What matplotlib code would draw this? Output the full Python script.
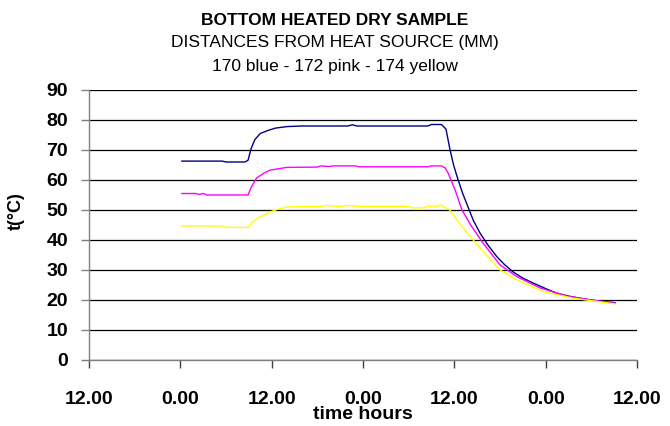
import matplotlib
matplotlib.use("Agg")
from matplotlib import pyplot as plt

plt.rcParams['font.family'] = ['Liberation Sans', 'DejaVu Sans']

# hours since the first 12.00 mark on the axis
tick_hours = [0, 12, 24, 36, 48, 60, 72]
tick_labels = ['12.00', '0.00', '12.00', '0.00', '12.00', '0.00', '12.00']

# 170 mm (blue)
blue_h = [12.2, 17.5, 18.0, 20.5, 20.9, 21.3, 21.8, 22.5, 23.5, 24.5, 26.0, 28.0,
          34.0, 34.6, 35.2, 44.5, 45.0, 46.3, 46.9, 47.4, 47.9, 48.5, 49.1, 49.8,
          50.5, 51.4, 52.5, 53.6, 54.6, 55.7, 57.0, 58.4, 60.0, 61.5, 63.0, 64.5,
          66.5, 69.1]
blue_t = [66.3, 66.3, 66.0, 66.0, 66.6, 70.5, 73.5, 75.5, 76.5, 77.3, 77.8, 78.0,
          78.0, 78.4, 78.0, 78.0, 78.5, 78.5, 77.0, 70.5, 65.0, 60.0, 55.5, 51.0,
          46.5, 42.2, 38.0, 34.4, 31.8, 29.4, 27.3, 25.6, 23.8, 22.2, 21.3, 20.6,
          19.8, 19.1]

# 172 mm (pink)
pink_h = [12.2, 14.0, 14.5, 15.0, 15.5, 20.9, 21.3, 22.0, 23.0, 23.8, 26.0, 30.0,
          30.5, 31.5, 32.0, 35.0, 35.5, 44.5, 45.0, 46.3, 46.8, 47.2, 48.1, 49.0,
          50.3, 51.8, 54.0, 56.2, 59.3, 62.8, 66.0, 69.1]
pink_t = [55.5, 55.5, 55.2, 55.5, 55.0, 55.0, 57.5, 60.6, 62.3, 63.3, 64.2, 64.3,
          64.7, 64.5, 64.7, 64.7, 64.4, 64.4, 64.7, 64.7, 64.0, 62.2, 56.7, 50.0,
          44.4, 38.9, 31.7, 27.8, 24.0, 21.3, 20.0, 18.9]

# 174 mm (yellow)
yellow_h = [12.2, 17.5, 18.0, 20.9, 21.5, 22.5, 23.8, 25.0, 26.0, 30.5, 31.0, 33.0,
            34.0, 35.5, 42.0, 42.5, 44.0, 44.5, 45.8, 46.2, 46.7, 47.4, 48.5, 50.1,
            51.8, 54.0, 56.2, 59.7, 63.6, 66.5, 69.1]
yellow_t = [44.7, 44.7, 44.2, 44.2, 46.0, 47.8, 49.4, 50.4, 51.0, 51.2, 51.5, 51.2,
            51.5, 51.2, 51.2, 50.7, 50.7, 51.3, 51.3, 51.7, 51.0, 50.0, 46.1, 41.1,
            36.1, 30.0, 26.7, 22.8, 20.6, 19.6, 18.7]

fig = plt.figure(figsize=(6.7, 4.26), dpi=100)
ax = fig.add_axes([89 / 670, 1 - 360 / 426, (637 - 89) / 670, 270 / 426])

ax.plot(blue_h, blue_t, color='#000080', lw=1.0)
ax.plot(pink_h, pink_t, color='#FF00FF', lw=1.0)
ax.plot(yellow_h, yellow_t, color='#FFFF00', lw=1.0)

ax.set_xlim(0, 72)
ax.set_ylim(0, 90)
ax.set_yticks(range(0, 91, 10))
ax.set_xticks(tick_hours)
ax.set_xticklabels(tick_labels)
ax.yaxis.grid(True, color='black', lw=0.9)
ax.set_axisbelow(True)

for s in ['top', 'right']:
    ax.spines[s].set_visible(False)
for s in ['left', 'bottom']:
    ax.spines[s].set_color('#808080')
    ax.spines[s].set_linewidth(1.0)

ax.tick_params(axis='y', length=6, width=1, color='#808080', pad=9, labelsize=14)
ax.tick_params(axis='x', length=6, width=1, color='#404040', pad=16, labelsize=14)
for lab in ax.get_xticklabels() + ax.get_yticklabels():
    lab.set_fontweight('bold')

ax.set_xlabel('time hours', fontsize=14, fontweight='bold')
ax.xaxis.set_label_coords(0.5, -0.172)
ax.set_ylabel('t(°C)', fontsize=13, fontweight='bold')
ax.yaxis.set_label_coords(-0.118, 0.55)

fig.text(0.5, 1 - 25 / 426, 'BOTTOM HEATED DRY SAMPLE', ha='center', va='baseline',
         fontsize=12.5, fontweight='bold')
fig.text(0.5, 1 - 47.5 / 426, 'DISTANCES FROM HEAT SOURCE (MM)', ha='center', va='baseline',
         fontsize=12.5)
fig.text(0.5, 1 - 71.5 / 426, '170 blue - 172 pink - 174 yellow', ha='center', va='baseline',
         fontsize=12.5)

fig.savefig('out.png', dpi=100)
